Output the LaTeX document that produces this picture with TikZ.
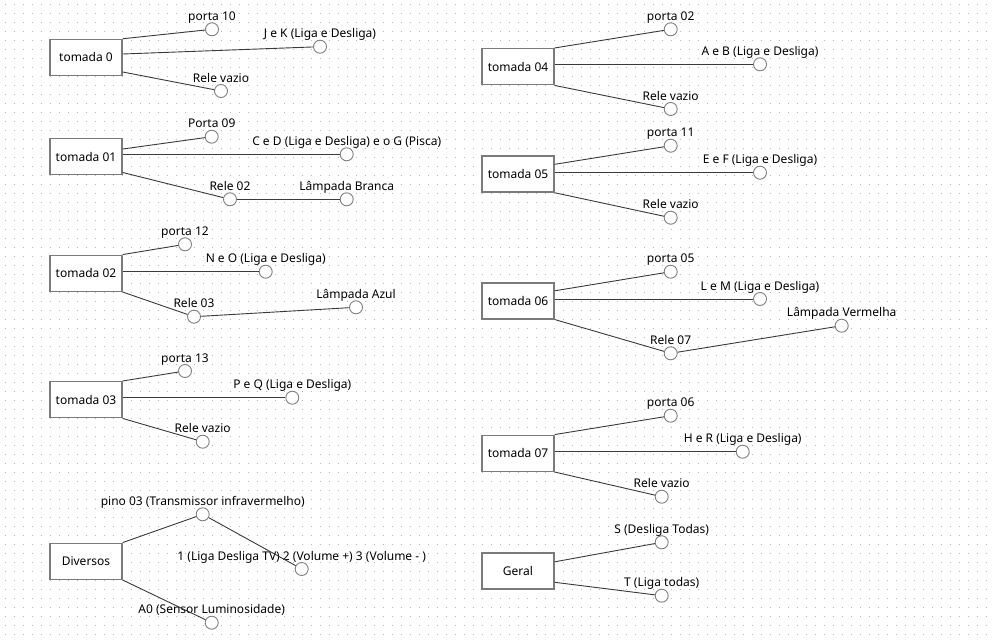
\documentclass[tikz,border=0pt]{standalone}
\usepackage{fontspec}
\setmainfont{Noto Sans}
\definecolor{boxgray}{HTML}{7B7B7B}
\definecolor{pingray}{HTML}{7F7F7F}
\definecolor{wiregray}{HTML}{3A3A3A}
\definecolor{dotgray}{HTML}{B8B8B8}
\newcommand\pinnode[4]{\node[pinc] (#1) at (#2,#3) {}; \node[lbl] (#1t) at ([yshift=9pt]#1.center) {#4};}
\begin{document}
\begin{tikzpicture}[x=1pt,y=-1pt,
 box/.style={draw=boxgray, line width=1.5pt, fill=white, minimum width=72pt, minimum height=36pt, inner sep=0pt, font=\fontsize{12}{14}\selectfont},
 pinc/.style={circle, draw=pingray, line width=0.9pt, fill=white, minimum size=13pt, inner sep=0pt},
 lbl/.style={anchor=base, inner sep=0pt, font=\fontsize{12}{14}\selectfont},
 wire/.style={draw=wiregray, line width=0.9pt},
 dotrow/.style={draw=dotgray, line width=1pt, dash pattern=on 1pt off 8pt}]
\fill[white] (0,0) rectangle (992,642);
\useasboundingbox (0,0) rectangle (992,642);
\foreach \j in {0,...,70} \draw[dotrow] (4.5,4.5+9*\j) -- (992,4.5+9*\j);
% boxes
\node[box] (t0) at (86,57.5) {tomada 0};
\node[box] (t1) at (86,156.5) {tomada 01};
\node[box] (t2) at (86,273.3) {tomada 02};
\node[box] (t3) at (86,399.7) {tomada 03};
\node[box] (dv) at (86,561.3) {Diversos};
\node[box] (t4) at (518,66.7) {tomada 04};
\node[box] (t5) at (518,174) {tomada 05};
\node[box] (t6) at (518,300.8) {tomada 06};
\node[box] (t7) at (518,453.3) {tomada 07};
\node[box] (ge) at (518,570.8) {Geral};
% pins with their labels
\pinnode{c0a}{212}{29.3}{porta 10}
\pinnode{c0b}{320}{46.7}{J e K (Liga e Desliga)}
\pinnode{c0c}{221}{91}{Rele vazio}
\pinnode{c1a}{211.7}{136.7}{Porta 09}
\pinnode{c1b}{346.7}{154.3}{C e D (Liga e Desliga) e o G (Pisca)}
\pinnode{c1c}{230}{199.3}{Rele 02}
\pinnode{c1d}{346.7}{199.3}{Lâmpada Branca}
\pinnode{c2a}{185}{244.3}{porta 12}
\pinnode{c2b}{265.7}{271.7}{N e O (Liga e Desliga)}
\pinnode{c2c}{194}{316.7}{Rele 03}
\pinnode{c2d}{356}{307.3}{Lâmpada Azul}
\pinnode{c3a}{185}{371}{porta 13}
\pinnode{c3b}{292.3}{397.7}{P e Q (Liga e Desliga)}
\pinnode{c3c}{202.7}{441.7}{Rele vazio}
\pinnode{d1}{202.7}{514.3}{pino 03 (Transmissor infravermelho)}
\pinnode{d2}{301.7}{569}{1 (Liga Desliga TV) 2 (Volume +) 3 (Volume - )}
\pinnode{d3}{211.7}{622.7}{A0 (Sensor Luminosidade)}
\pinnode{c4a}{670.7}{29.3}{porta 02}
\pinnode{c4b}{760}{64.3}{A e B (Liga e Desliga)}
\pinnode{c4c}{670.7}{109}{Rele vazio}
\pinnode{c5a}{670.7}{145.7}{porta 11}
\pinnode{c5b}{760}{172.7}{E e F (Liga e Desliga)}
\pinnode{c5c}{670.7}{217.7}{Rele vazio}
\pinnode{c6a}{670.7}{271.7}{porta 05}
\pinnode{c6b}{760}{299}{L e M (Liga e Desliga)}
\pinnode{c6c}{670.7}{353.3}{Rele 07}
\pinnode{c6d}{841.7}{325.7}{Lâmpada Vermelha}
\pinnode{c7a}{670.7}{415.7}{porta 06}
\pinnode{c7b}{742.7}{451.7}{H e R (Liga e Desliga)}
\pinnode{c7c}{661.7}{496.7}{Rele vazio}
\pinnode{g1}{661.7}{542.3}{S (Desliga Todas)}
\pinnode{g2}{661.7}{595.7}{T (Liga todas)}
% connectors
\draw[wire] (t0.north east) -- (c0a);
\draw[wire] ([yshift=3.5pt]t0.east) -- (c0b);
\draw[wire] ([yshift=-14.5pt]t0.east) -- (c0c);
\draw[wire] ([yshift=7.5pt]t1.east) -- (c1a);
\draw[wire] (t1.east |- c1b) -- (c1b);
\draw[wire] ([yshift=-16pt]t1.east) -- (c1c);
\draw[wire] (c1c) -- (c1d);
\draw[wire] (t2.north east) -- (c2a);
\draw[wire] (t2.east |- c2b) -- (c2b);
\draw[wire] (t2.south east) -- (c2c);
\draw[wire] (c2c) -- (c2d);
\draw[wire] (t3.north east) -- (c3a);
\draw[wire] (t3.east |- c3b) -- (c3b);
\draw[wire] (t3.south east) -- (c3c);
\draw[wire] (dv.north east) -- (d1);
\draw[wire] (d1) -- (d2);
\draw[wire] (dv.south east) -- (d3);
\draw[wire] (t4.north east) -- (c4a);
\draw[wire] (t4.east |- c4b) -- (c4b);
\draw[wire] (t4.south east) -- (c4c);
\draw[wire] ([yshift=9.7pt]t5.east) -- (c5a);
\draw[wire] (t5.east |- c5b) -- (c5b);
\draw[wire] (t5.south east) -- (c5c);
\draw[wire] ([yshift=10pt]t6.east) -- (c6a);
\draw[wire] (t6.east |- c6b) -- (c6b);
\draw[wire] (t6.south east) -- (c6c);
\draw[wire] (c6c) -- (c6d);
\draw[wire] (t7.north east) -- (c7a);
\draw[wire] (t7.east |- c7b) -- (c7b);
\draw[wire] (t7.south east) -- (c7c);
\draw[wire] ([yshift=9pt]ge.east) -- (g1);
\draw[wire] ([yshift=-11.5pt]ge.east) -- (g2);
\end{tikzpicture}
\end{document}
